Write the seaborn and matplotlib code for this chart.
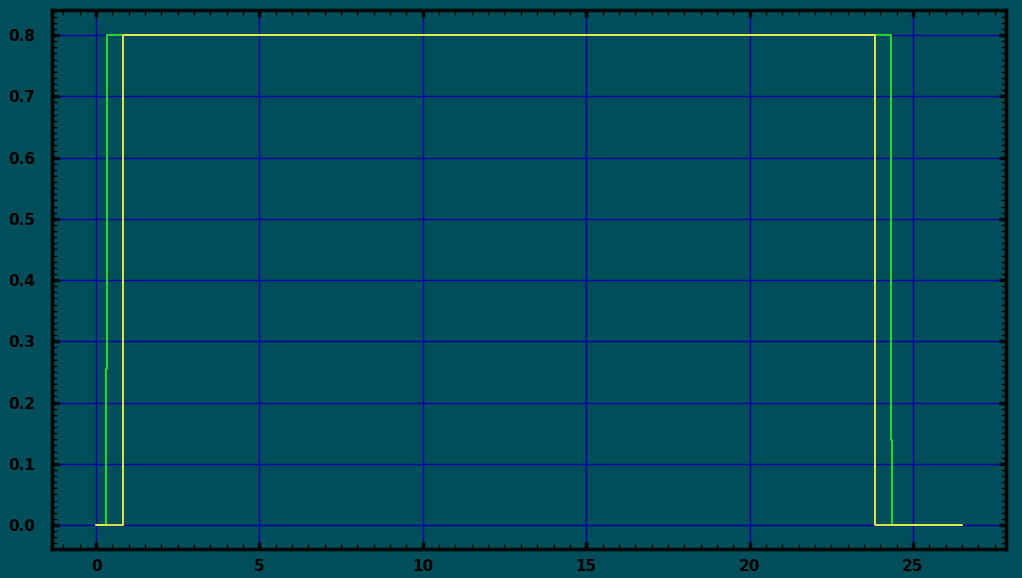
import numpy as np
import pandas as pd
import matplotlib
matplotlib.use("Agg")
import matplotlib.pyplot as plt
import seaborn as sns
from matplotlib.ticker import MultipleLocator

# step signal corners
green_x = [0.0, 0.30, 0.30, 0.34, 0.34, 24.34, 24.34, 24.37, 24.37, 26.49]
green_y = [0.0, 0.0, 0.255, 0.255, 0.80, 0.80, 0.139, 0.139, 0.0, 0.0]
yellow_x = [0.0, 0.83, 0.83, 23.85, 23.85, 26.49]
yellow_y = [0.0, 0.0, 0.80, 0.80, 0.0, 0.0]

bg = "#004E5A"
sns.set_theme(style="ticks")
plt.rcParams["font.family"] = ["DejaVu Sans"]

fig = plt.figure(figsize=(10.22, 5.78), dpi=100, facecolor=bg)
ax = fig.add_axes([52 / 1022, 29 / 578, 954 / 1022, 539 / 578])
ax.set_facecolor(bg)

green = pd.DataFrame({"x": green_x, "y": green_y})
yellow = pd.DataFrame({"x": yellow_x, "y": yellow_y})
sns.lineplot(data=green, x="x", y="y", sort=False, estimator=None,
             color="#22E622", lw=1.3, ax=ax, zorder=3)
sns.lineplot(data=yellow, x="x", y="y", sort=False, estimator=None,
             color="#F0F050", lw=1.3, ax=ax, zorder=4)

ax.set_xlim(-1.35, 27.85)
ax.set_ylim(-0.039, 0.841)
ax.xaxis.set_major_locator(MultipleLocator(5))
ax.xaxis.set_minor_locator(MultipleLocator(0.5))
ax.yaxis.set_major_locator(MultipleLocator(0.1))
ax.yaxis.set_minor_locator(MultipleLocator(0.01))
ax.yaxis.set_major_formatter(matplotlib.ticker.FormatStrFormatter("%.1f"))
ax.grid(True, which="major", color="#0000A8", lw=1.0, zorder=1)
ax.set_axisbelow(True)
ax.set_xlabel("")
ax.set_ylabel("")

for s in ax.spines.values():
    s.set_color("black")
    s.set_linewidth(2.5)
ax.tick_params(which="both", direction="in", top=True, right=True,
               color="black", labelcolor="black")
ax.tick_params(which="major", length=5, width=2.5, labelsize=11)
ax.tick_params(axis="x", which="major", pad=7)
ax.tick_params(axis="y", which="major", pad=12)
ax.tick_params(which="minor", length=3.5, width=1)
for lab in ax.get_xticklabels() + ax.get_yticklabels():
    lab.set_fontweight("bold")

fig.savefig("out.png", dpi=100, facecolor=bg)
